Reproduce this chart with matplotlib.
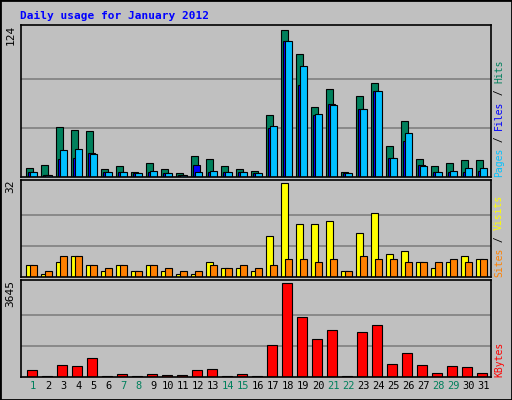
import numpy as np
import matplotlib.pyplot as plt
from matplotlib.patches import Rectangle

days = np.arange(1, 32)
hits = [8, 10, 42, 40, 39, 7, 9.5, 4, 12, 7, 3, 18, 15, 9, 7, 5, 52, 124, 104, 59, 74, 4, 68, 79, 26, 47, 15, 9, 12, 14, 14]
files = [4, 2, 15, 16, 20, 4, 4, 3, 4, 3, 2, 10, 4, 4, 4, 3, 41, 115, 78, 52, 62, 3, 57, 73, 16, 30, 10, 4, 4, 4, 5]
pages = [4, 2, 23, 24, 19, 4, 4, 3, 5, 3, 2, 4, 5, 4, 4, 3, 43, 115, 94, 53, 61, 3, 57, 73, 16, 37, 9, 4, 5, 8, 8]
visits = [4, 1, 5, 7, 4, 2, 4, 2, 4, 2, 1, 1, 5, 3, 3, 2, 14, 32, 18, 18, 19, 2, 15, 22, 8, 9, 5, 3, 5, 7, 6]
sites = [4, 2, 7, 7, 4, 3, 4, 2, 4, 3, 2, 2, 4, 3, 4, 3, 4, 6, 6, 5, 6, 2, 7, 6, 6, 5, 5, 5, 6, 5, 6]
kbytes = [253, 53, 452, 412, 732, 53, 133, 53, 133, 93, 93, 253, 293, 53, 133, 53, 1250, 3645, 2328, 1490, 1809, 53, 1769, 2009, 492, 931, 452, 173, 412, 372, 173]
weekends = [1, 7, 8, 14, 15, 21, 22, 28, 29]

W, H = 512, 400
BG = '#c0c0c0'
GREEN = '#00805c'
fig = plt.figure(figsize=(W / 100, H / 100), dpi=100, facecolor=BG)
fig.patches.append(Rectangle((0, 0), 1, 1, transform=fig.transFigure, fill=False,
                             edgecolor='black', lw=2))
mono = 'DejaVu Sans Mono'

def px_axes(x0, y0, x1, y1):
    return fig.add_axes([x0 / W, 1 - y1 / H, (x1 - x0) / W, (y1 - y0) / H])

def style(ax, vmax, label):
    ax.set_facecolor(BG)
    ax.set_xlim(0.18, 31.51)
    ax.set_ylim(0, vmax * 1.035)
    for g in (vmax / 3, vmax * 2 / 3):
        ax.axhline(g, color='#808080', lw=1.2, zorder=0)
    ax.set_xticks([])
    ax.set_yticks([])
    for s in ax.spines.values():
        s.set_linewidth(1.2)
    ax.text(-0.012, 1.0 - 0.035 * 0, label, transform=ax.transAxes, rotation=90,
            ha='right', va='top', family=mono, fontsize=8)

def right_label(ax, parts):
    # parts from bottom to top: (text, color)
    y = 0
    for txt, col in parts:
        ax.text(1.012, 0.0, txt, transform=ax.transAxes, rotation=90, ha='left',
                va='bottom', family=mono, fontsize=7, color=col)
        break
    # stack pieces manually
    for t in ax.texts[-1:]:
        t.remove()
    off = 0
    for txt, col in parts:
        ax.annotate(txt, xy=(1, 0), xycoords='axes fraction', xytext=(3, off),
                    textcoords='offset pixels', rotation=90, ha='left', va='bottom',
                    family=mono, fontsize=7, color=col)
        off += len(txt) * 5.85

fig.text(20 / W, 1 - 16 / H, 'Daily usage for January 2012', color='#0000ff',
         family=mono, fontweight='bold', fontsize=8, va='center')

ax1 = px_axes(21, 25, 491, 177)
style(ax1, max(hits), '124')
kw = dict(align='edge', width=0.5, edgecolor='black', linewidth=0.8)
ax1.bar(days - 0.5, hits, color=GREEN, **kw)
ax1.bar(days - 0.38, files, color='#0000ff', **kw)
ax1.bar(days - 0.25, pages, color='#00c0ff', **kw)
right_label(ax1, [('Pages', '#00c0ff'), (' / ', 'black'), ('Files', '#0000ff'),
                  (' / ', 'black'), ('Hits', GREEN)])

ax2 = px_axes(21, 180, 491, 277)
style(ax2, max(visits), '32')
ax2.bar(days - 0.5, visits, color='#ffff00', **kw)
ax2.bar(days - 0.25, sites, color='#ff8000', **kw)
right_label(ax2, [('Sites', '#ff8000'), (' / ', 'black'), ('Visits', '#ffff00')])

ax3 = px_axes(21, 280, 491, 377)
style(ax3, max(kbytes), '3645')
ax3.bar(days - 0.45, kbytes, color='#ff0000', align='edge', width=0.7,
        edgecolor='black', linewidth=0.8)
right_label(ax3, [('KBytes', '#ff0000')])

for d in days:
    ax3.text(d, -0.04, str(d), transform=ax3.get_xaxis_transform(), ha='center',
             va='top', family=mono, fontsize=7.5,
             color=GREEN if d in weekends else 'black')

fig.savefig('out.png', dpi=100, facecolor=BG)
